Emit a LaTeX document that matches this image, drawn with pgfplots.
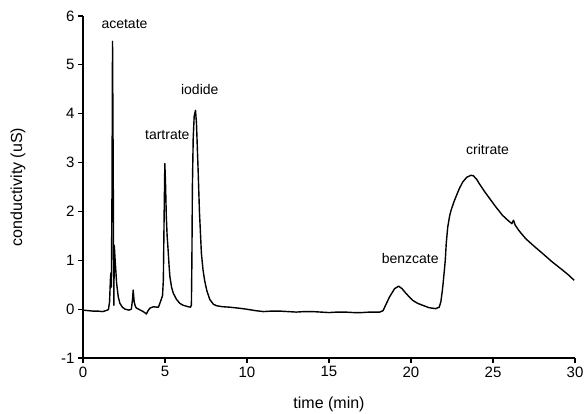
\documentclass[border=0pt]{standalone}
\usepackage{pgfplots}
\pgfplotsset{compat=1.18}
\usepackage{fontspec}
\setmainfont{Liberation Sans}
\begin{document}
\begin{tikzpicture}
\useasboundingbox (-83pt,-55pt) rectangle (501pt,358pt);
\begin{axis}[
  at={(0,0)}, anchor=south west,
  scale only axis, width=492pt, height=342pt,
  xmin=0, xmax=30, ymin=-1, ymax=6,
  axis lines=left, axis line style={-, line width=1.3pt},
  xtick={0,5,...,30}, ytick={-1,0,...,6},
  tick align=outside, major tick length=5pt,
  tick style={line width=1.2pt, black},
  /pgf/number format/assume math mode=true,
  tick label style={font=\fontsize{15}{17}\selectfont},
  xlabel={time (min)}, ylabel={conductivity (uS)},
  label style={font=\fontsize{16}{18}\selectfont},
  xlabel style={at={(axis description cs:0.5,-0.137)}, anchor=center},
  ylabel style={at={(axis description cs:-0.132,0.5)}, anchor=center, rotate=0},
  clip=false,
]
\addplot[black, line width=1.4pt, line join=round] coordinates {
(0,-0.02) (0.3,-0.03) (0.6,-0.04) (0.9,-0.04) (1.2,-0.05) (1.4,-0.03) (1.55,-0.01)
(1.62,0.15) (1.67,0.6) (1.70,0.74) (1.73,0.45) (1.77,2.5) (1.80,5.48) (1.84,3.0)
(1.88,0.08) (1.91,1.3) (1.96,1.0) (2.0,0.8) (2.05,0.53) (2.15,0.25) (2.25,0.12)
(2.4,0.04) (2.56,0.0) (2.8,-0.02) (2.95,0.0) (3.02,0.2) (3.06,0.39) (3.12,0.15)
(3.2,0.05) (3.27,0.02) (3.5,-0.02) (3.67,-0.05) (3.8,-0.08) (3.87,-0.1) (3.95,-0.04)
(4.08,0.02) (4.3,0.05) (4.5,0.04) (4.6,0.04) (4.72,0.15) (4.79,0.22) (4.85,0.28)
(4.9,0.6) (4.95,2.0) (4.99,2.98) (5.03,2.6) (5.08,1.9) (5.13,1.5) (5.19,1.21)
(5.25,0.88) (5.3,0.66) (5.4,0.45) (5.5,0.33) (5.7,0.2) (5.9,0.12) (6.1,0.08)
(6.41,0.05) (6.55,0.04) (6.61,0.08) (6.64,1.0) (6.67,2.5) (6.72,3.5) (6.78,3.95)
(6.86,4.07) (6.92,3.8) (7.02,2.84) (7.1,2.0) (7.22,1.14) (7.32,0.8) (7.42,0.58)
(7.55,0.38) (7.73,0.2) (7.95,0.1) (8.14,0.07) (8.5,0.05) (8.95,0.04) (9.5,0.02)
(9.96,0.0) (10.5,-0.03) (11,-0.05) (11.5,-0.04) (12,-0.04) (12.5,-0.05) (13,-0.06)
(13.5,-0.05) (14,-0.05) (14.5,-0.06) (15,-0.07) (15.5,-0.06) (16,-0.06) (16.5,-0.07)
(17,-0.07) (17.5,-0.06) (18.1,-0.06) (18.3,-0.03) (18.45,0.08) (18.69,0.25)
(19.0,0.42) (19.25,0.47) (19.45,0.42) (19.7,0.32) (20.1,0.18) (20.4,0.12) (20.7,0.08)
(21.1,0.03) (21.5,0.01) (21.72,0.04) (21.82,0.15) (21.9,0.35) (21.95,0.5) (22.05,0.85)
(22.09,1.0) (22.15,1.35) (22.24,1.68) (22.35,1.9) (22.44,2.02) (22.6,2.18) (22.74,2.3)
(22.95,2.47) (23.15,2.6) (23.4,2.7) (23.66,2.74) (23.8,2.73) (24.0,2.66) (24.16,2.57)
(24.5,2.4) (24.87,2.23) (25.2,2.08) (25.58,1.92) (25.9,1.82) (26.15,1.75) (26.25,1.82)
(26.35,1.72) (26.6,1.6) (27.0,1.44) (27.5,1.29) (28.02,1.14) (28.6,0.97) (29.24,0.8)
(29.6,0.7) (29.95,0.59)
};
\node[font=\fontsize{14}{16}\selectfont] at (axis cs:2.53,5.83) {acetate};
\node[font=\fontsize{14}{16}\selectfont] at (axis cs:5.14,3.56) {tartrate};
\node[font=\fontsize{14}{16}\selectfont] at (axis cs:7.12,4.49) {iodide};
\node[font=\fontsize{14}{16}\selectfont] at (axis cs:19.95,1.04) {benzcate};
\node[font=\fontsize{14}{16}\selectfont] at (axis cs:24.67,3.27) {critrate};
\end{axis}
\end{tikzpicture}
\end{document}
